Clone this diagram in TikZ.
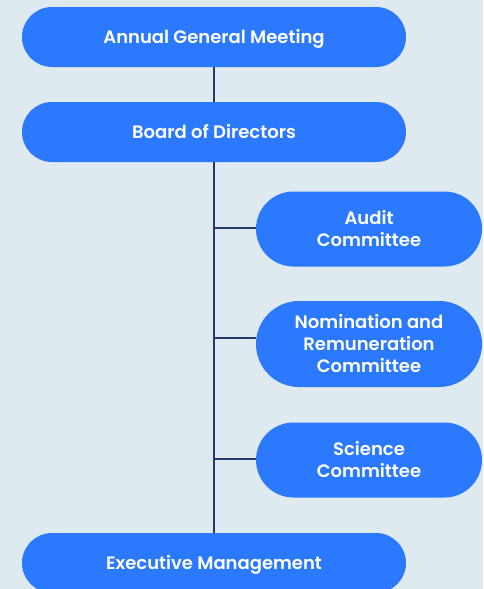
\documentclass[tikz,border=0pt]{standalone}
\usepackage{fontspec}
\setmainfont{Poppins}[BoldFont={Poppins SemiBold}]
\definecolor{bgpanel}{HTML}{DFE9F0}
\definecolor{pillblue}{HTML}{2B79FE}
\definecolor{linknavy}{HTML}{27386B}
\begin{document}
\begin{tikzpicture}[x=1pt,y=-1pt,
  pill/.style={fill=pillblue, text=white, font=\fontsize{18}{22}\selectfont\bfseries,
    align=center, inner sep=0pt},
  wide/.style={pill, minimum width=384pt, minimum height=60pt, rounded corners=30pt,
    text height=13pt, text depth=0pt},
  side/.style={pill, minimum width=226pt, rounded corners=#1},
  link/.style={draw=linknavy, line width=1.4pt}]
  \fill[bgpanel] (0,0) rectangle (483,589);
  \useasboundingbox (0,0) rectangle (483,589);

  \node[wide] (agm) at (214,37) {Annual General Meeting};
  \node[wide] (board) at (214,132) {Board of Directors};
  \node[side=37.5pt, minimum height=75pt] (audit) at (369,229) {Audit\\Committee};
  \node[side=43pt, minimum height=86pt] (nom) at (369,344) {Nomination and\\Remuneration\\Committee};
  \node[side=37.5pt, minimum height=75pt] (sci) at (369,460) {Science\\Committee};
  \node[wide] (exec) at (214,563) {Executive Management};

  \coordinate (jaudit) at (214,228);
  \coordinate (jnom) at (214,338);
  \coordinate (jsci) at (214,459);

  \draw[link] (agm.south) -- (board.north);
  \draw[link] (board.south) -- (exec.north);
  \draw[link] (jaudit) -- (jaudit -| audit.west);
  \draw[link] (jnom) -- (jnom -| nom.west);
  \draw[link] (jsci) -- (jsci -| sci.west);
\end{tikzpicture}
\end{document}
